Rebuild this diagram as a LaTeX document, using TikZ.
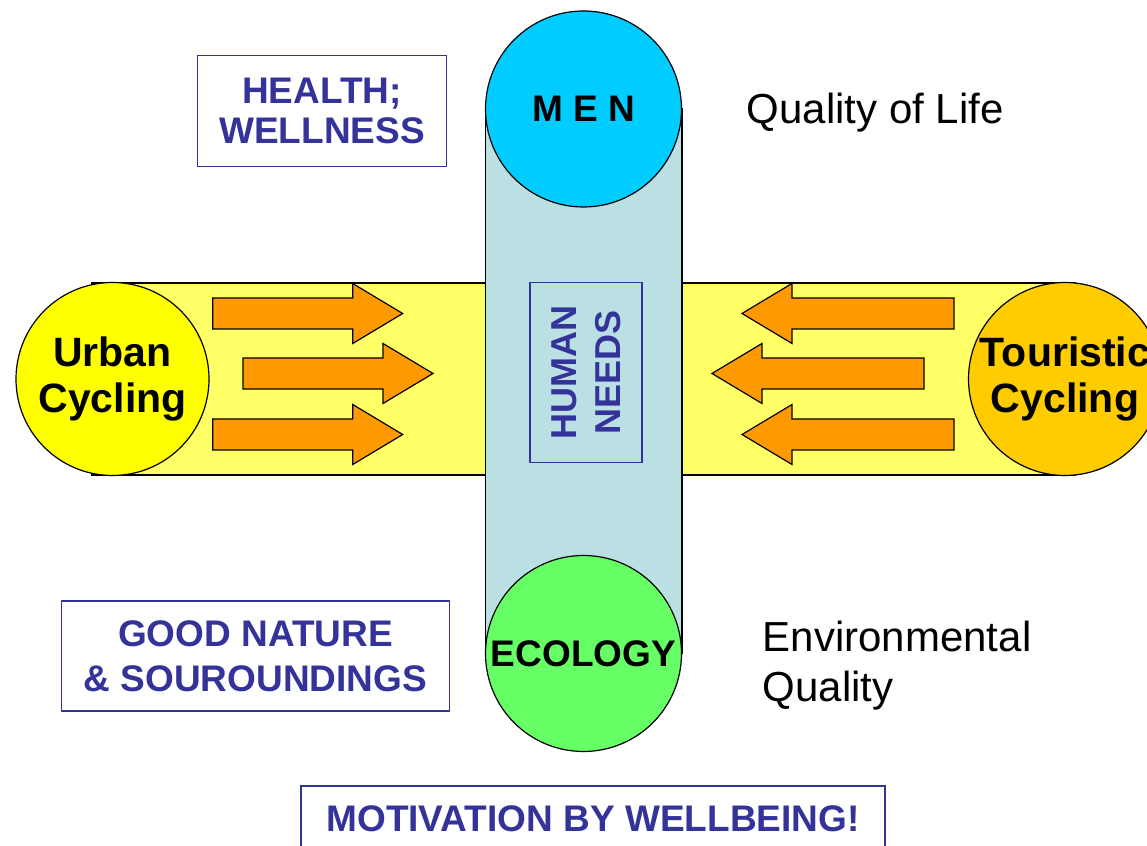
\documentclass[tikz,border=0pt]{standalone}
\usepackage{fontspec}
\setmainfont{Liberation Sans}
\usepackage{xcolor}
\usepackage{tikz}
\usetikzlibrary{calc}
\definecolor{bandY}{HTML}{FFFF66}
\definecolor{bandB}{HTML}{BBE0E3}
\definecolor{urbanY}{HTML}{FFFF00}
\definecolor{touristO}{HTML}{FFCC00}
\definecolor{menC}{HTML}{00CCFF}
\definecolor{ecoG}{HTML}{66FF66}
\definecolor{arrowO}{HTML}{FF9900}
\definecolor{navy}{HTML}{333399}
\tikzset{
  band/.style={draw=black, line width=1.2pt},
  bubble/.style={circle, draw=black, line width=1.2pt, inner sep=0pt, align=center},
  flowarrow/.style={draw=black, line width=1.2pt, fill=arrowO, line join=miter},
  tag/.style={draw=navy, line width=1.4pt, text=navy, align=center},
  plain/.style={inner sep=0pt, align=left, font=\fontsize{42}{50}\selectfont}
}
\newcommand{\blockarrow}[4]{%
  \draw[flowarrow, shift={(#1,#2)}, xscale=#4]
    (0,-15.5) -- (#3-50,-15.5) -- (#3-50,-30) -- (#3,0) -- (#3-50,30)
    -- (#3-50,15.5) -- (0,15.5) -- cycle;}

\begin{document}
\begin{tikzpicture}[x=1pt, y=1pt]
  \useasboundingbox (0,0) rectangle (1147,845);
  \clip (0,0) rectangle (1147,845);
  \fill[white] (0,0) rectangle (1147,845);

  \coordinate (uc) at (112.5,466);
  \coordinate (tc) at (1065,466);
  \coordinate (mc) at (583.5,736);
  \coordinate (ec) at (583.5,191.5);

  \draw[band, fill=bandY] ($(uc)+(-20.5,96)$) rectangle ($(tc)+(10,-96)$);
  \draw[band, fill=bandB] ($(mc)+(-98,0)$) rectangle ($(ec)+(98.5,0)$);

  \node[bubble, fill=urbanY, minimum size=193pt,
        font=\fontsize{41}{46.7}\selectfont\bfseries] (urban) at (uc) {Urban\\Cycling};
  \node[bubble, fill=touristO, minimum size=193pt,
        font=\fontsize{41}{46.7}\selectfont\bfseries] (touristic) at (tc) {Touristic\\Cycling};
  \node[bubble, fill=menC, minimum size=196pt,
        font=\fontsize{37}{43}\selectfont\bfseries] (men) at (mc) {M E N};
  \node[bubble, fill=ecoG, minimum size=196pt,
        font=\fontsize{37}{43}\selectfont\bfseries] (ecology) at (ec) {ECOLOGY};

  \foreach \ax/\ay in {212.7/531.5, 243/471.5, 212.7/410.5}
    \blockarrow{\ax}{\ay}{190}{1};
  \foreach \ax/\ay in {954/531.5, 924/471.5, 954/410.5}
    \blockarrow{\ax}{\ay}{212}{-1};

  \node[tag, fill=white, minimum width=249pt, minimum height=111pt,
        font=\fontsize{37}{40}\selectfont\bfseries] (health) at (322,733.8) {HEALTH;\\WELLNESS};
  \node[tag, minimum width=388pt, minimum height=110pt,
        font=\fontsize{37}{45}\selectfont\bfseries] (nature) at (255.5,189.1) {GOOD NATURE\\\& SOUROUNDINGS};
  \node[tag, rotate=90, minimum width=180pt, minimum height=112pt,
        font=\fontsize{36}{44}\selectfont\bfseries] (needs) at (585.9,472.3) {HUMAN\\NEEDS};
  \node[tag, minimum width=584pt, minimum height=66pt,
        font=\fontsize{37}{43}\selectfont\bfseries] (motivation) at (593,26) {MOTIVATION BY WELLBEING!};

  \node[plain, anchor=base west] (quality) at (746.7,721.7) {Quality of Life};
  \node[plain, anchor=west] (envquality) at (762.7,179.2) {Environmental\\Quality};
\end{tikzpicture}
\end{document}
